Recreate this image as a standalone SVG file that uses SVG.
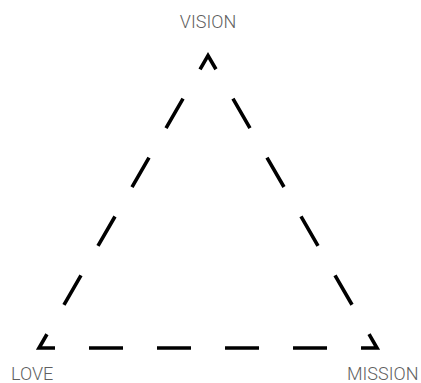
<svg xmlns="http://www.w3.org/2000/svg" width="421" height="383" viewBox="0 0 421 383">
  <style>
    .label { font-family: Roboto, "Liberation Sans", Arial, sans-serif; font-weight: 300; font-size: 18px; fill: #5f5f5f; }
    .edge { fill: none; stroke: #000; stroke-width: 3.6; stroke-linejoin: miter; stroke-miterlimit: 10; stroke-linecap: butt; }
  </style>
  <rect width="421" height="383" fill="#fff"/>
  <g id="connectors">
    <path class="edge" d="M208,348 L39,348 L208,55.5 L377,348 Z"
      stroke-dasharray="0 17 34 34 34 34 31.9 34 34 34 34 34 34 34 34 34 31.8 34 34 34 34 34 34 34 34 34 31.9 34 34 34 34 17"/>
  </g>
  <g id="vision">
    <text class="label" x="208" y="27.5" text-anchor="middle">VISION</text>
  </g>
  <g id="love">
    <text class="label" x="11" y="379.5">LOVE</text>
  </g>
  <g id="mission">
    <text class="label" x="418.5" y="379.5" text-anchor="end">MISSION</text>
  </g>
</svg>
